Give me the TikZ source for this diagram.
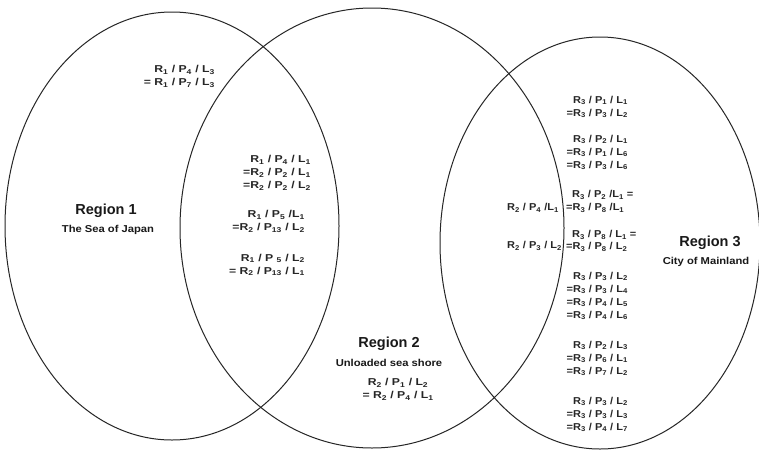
\documentclass[tikz,border=0pt]{standalone}
\usepackage{fontspec}
\setmainfont{Liberation Sans}
\newfontfamily\widefont{Liberation Sans}[FakeStretch=1.22]
\newfontfamily\rightfont{Liberation Sans}[FakeStretch=1.1]
\newfontfamily\midfont{Liberation Sans}[FakeStretch=1.12]
\usetikzlibrary{shapes.geometric}
\newcommand\ssb[1]{\textsubscript{#1}}
\tikzset{
  region/.style={draw=black!85, line width=1pt, ellipse, inner sep=0pt},
  small/.style={font=\widefont\fontsize{10}{13}\selectfont\bfseries, text=black!85, inner sep=0pt, align=right},
  smallr/.style={small, font=\rightfont\fontsize{10}{13}\selectfont\bfseries},
  smallc/.style={small, align=center},
  rtitle/.style={font=\fontsize{14.5}{16}\selectfont\bfseries, text=black!90, inner sep=0pt},
  rsub/.style={font=\midfont\fontsize{10}{11}\selectfont\bfseries, text=black!90, inner sep=0pt}
}
\begin{document}
\begin{tikzpicture}[x=1pt, y=-1pt]
\useasboundingbox (0,0) rectangle (759,450);
\fill[white] (0,0) rectangle (759,450);
% ellipses
\node[region, minimum width=334pt, minimum height=428pt] (e1) at (172,226) {};
\node[region, minimum width=384pt, minimum height=440pt] (e2) at (372,228) {};
\node[region, minimum width=320pt, minimum height=412pt] (e3) at (600,243) {};
% region 1
\node[small, anchor=east] (t1) at (215,76.5) {R\ssb{1} / P\ssb{4} / L\ssb{3}\\= R\ssb{1} / P\ssb{7} / L\ssb{3}};
\node[rtitle] (r1) at (106,211) {Region 1};
\node[rsub] (r1s) at (108,230) {The Sea of Japan};
% middle (1 and 2)
\node[small, anchor=east] (m1) at (311,173) {R\ssb{1} / P\ssb{4} / L\ssb{1}\\=R\ssb{2} / P\ssb{2} / L\ssb{1}\\=R\ssb{2} / P\ssb{2} / L\ssb{2}};
\node[small, anchor=east] (m2) at (305,221.5) {R\ssb{1} / P\ssb{5} /L\ssb{1}\\=R\ssb{2} / P\ssb{13} / L\ssb{2}};
\node[small, anchor=east] (m3) at (305,265) {R\ssb{1} / P \ssb{5} / L\ssb{2}\\= R\ssb{2} / P\ssb{13} / L\ssb{1}};
% region 2
\node[rtitle] (r2) at (389,344) {Region 2};
\node[rsub] (r2s) at (389,363) {Unloaded sea shore};
\node[smallc] (r2t) at (398,389.5) {R\ssb{2} / P\ssb{1} / L\ssb{2}\\= R\ssb{2} / P\ssb{4} / L\ssb{1}};
% 2 and 3
\node[smallr, anchor=west] (x1) at (507,208) {R\ssb{2} / P\ssb{4} /L\ssb{1}};
\node[smallr, anchor=west] (x2) at (507,246) {R\ssb{2} / P\ssb{3} / L\ssb{2}};
% region 3 blocks
\node[smallr, anchor=east] (b1) at (628,107) {R\ssb{3} / P\ssb{1} / L\ssb{1}\\=R\ssb{3} / P\ssb{3} / L\ssb{2}};
\node[smallr, anchor=east] (b2) at (628,152.5) {R\ssb{3} / P\ssb{2} / L\ssb{1}\\=R\ssb{3} / P\ssb{1} / L\ssb{6}\\=R\ssb{3} / P\ssb{3} / L\ssb{6}};
\node[smallr, anchor=west] (b3a) at (572,195) {R\ssb{3} / P\ssb{2} /L\ssb{1} =};
\node[smallr, anchor=west] (b3b) at (566,208) {=R\ssb{3} / P\ssb{8} /L\ssb{1}};
\node[smallr, anchor=west] (b4a) at (572,235) {R\ssb{3} / P\ssb{8} / L\ssb{1} =};
\node[smallr, anchor=west] (b4b) at (566,247) {=R\ssb{3} / P\ssb{8} / L\ssb{2}};
\node[smallr, anchor=east] (b5) at (628,296) {R\ssb{3} / P\ssb{3} / L\ssb{2}\\=R\ssb{3} / P\ssb{3} / L\ssb{4}\\=R\ssb{3} / P\ssb{4} / L\ssb{5}\\=R\ssb{3} / P\ssb{4} / L\ssb{6}};
\node[smallr, anchor=east] (b6) at (628,358.5) {R\ssb{3} / P\ssb{2} / L\ssb{3}\\=R\ssb{3} / P\ssb{6} / L\ssb{1}\\=R\ssb{3} / P\ssb{7} / L\ssb{2}};
\node[smallr, anchor=east] (b7) at (628,414.5) {R\ssb{3} / P\ssb{3} / L\ssb{2}\\=R\ssb{3} / P\ssb{3} / L\ssb{3}\\=R\ssb{3} / P\ssb{4} / L\ssb{7}};
\node[rtitle] (r3) at (710,243) {Region 3};
\node[rsub] (r3s) at (706,262) {City of Mainland};
\end{tikzpicture}
\end{document}
